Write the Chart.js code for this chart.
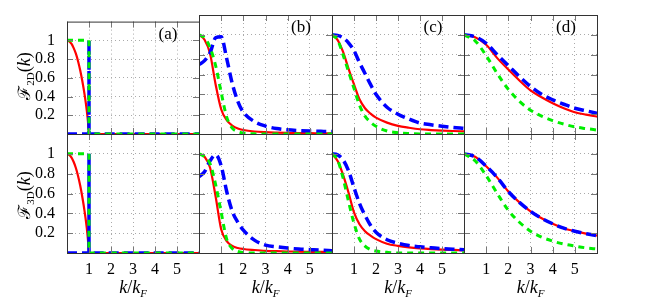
<!DOCTYPE html>
<html><head><meta charset="utf-8">
<script src="https://cdn.jsdelivr.net/npm/chart.js@4/dist/chart.umd.min.js"></script>
<style>
html,body{margin:0;padding:0;background:#fff;}
#wrap{position:relative;width:664px;height:299px;overflow:hidden;background:#fff;}
#wrap canvas{position:absolute;left:0;top:0;}
.lbl{position:absolute;font-family:"Liberation Serif","DejaVu Serif",serif;color:#000;white-space:nowrap;line-height:1;}
.ylab{transform:translate(-50%,-50%) rotate(-90deg);font-size:18px;}
.xlab{transform:translate(-50%,-50%);font-size:18px;}
.cal{font-family:"DejaVu Serif",serif;font-style:normal;font-size:17px;}
.lbl sub{font-size:11px;vertical-align:-4px;}
</style></head>
<body>
<div id="wrap"></div>
<script>
// ---------- data ----------
const xTickLabels = [1, 2, 3, 4, 5];
const yTickLabels = [0.2, 0.4, 0.6, 0.8, 1];
const panelLetters = ['(a)', '(b)', '(c)', '(d)'];

// panel (a): step / spike curves
const kRedA   = [0, 0.1, 0.2, 0.3, 0.4, 0.5, 0.6, 0.7, 0.8, 0.9, 0.95, 1, 6];
const redA    = [1, 0.99, 0.965, 0.92, 0.86, 0.78, 0.68, 0.56, 0.42, 0.25, 0.14, 0, 0];
const kStepA  = [0, 1, 1, 6];
const greenA  = [1, 1, 0, 0];
const kSpikeA = [0, 1, 1, 1, 6];
const blueA   = [0, 0, 1, 0, 0];

// panels (b),(c)
const kFine = [0, 0.25, 0.5, 0.75, 1, 1.25, 1.5, 1.75, 2, 2.5, 3, 3.5, 4, 4.5, 5, 5.5, 6];
const red2b   = [1, 0.95, 0.81, 0.50, 0.25, 0.14, 0.085, 0.055, 0.04, 0.025, 0.018, 0.014, 0.011, 0.009, 0.008, 0.007, 0.006];
const green2b = [1, 0.97, 0.87, 0.69, 0.42, 0.17, 0.06, 0.025, 0.01, 0.002, 0, 0, 0, 0, 0, 0, 0];
const blue2b  = [0.70, 0.74, 0.82, 0.97, 0.98, 0.76, 0.51, 0.33, 0.22, 0.125, 0.08, 0.055, 0.042, 0.035, 0.03, 0.027, 0.024];
const red3b   = [1, 0.97, 0.86, 0.57, 0.24, 0.12, 0.072, 0.05, 0.04, 0.03, 0.022, 0.018, 0.015, 0.013, 0.012, 0.011, 0.01];
const green3b = [1, 0.97, 0.90, 0.69, 0.41, 0.14, 0.045, 0.015, 0.005, 0, 0, 0, 0, 0, 0, 0, 0];
const blue3b  = [0.77, 0.82, 0.93, 0.99, 0.88, 0.62, 0.42, 0.31, 0.23, 0.13, 0.08, 0.063, 0.05, 0.04, 0.034, 0.028, 0.023];
const red2c   = [1, 0.95, 0.83, 0.66, 0.50, 0.35, 0.26, 0.205, 0.165, 0.115, 0.082, 0.063, 0.048, 0.04, 0.034, 0.03, 0.027];
const green2c = [1, 0.95, 0.80, 0.63, 0.46, 0.29, 0.18, 0.12, 0.078, 0.03, 0.012, 0.004, 0, 0, 0, 0, 0];
const blue2c  = [1, 0.995, 0.97, 0.92, 0.84, 0.72, 0.61, 0.50, 0.40, 0.27, 0.20, 0.15, 0.11, 0.093, 0.078, 0.066, 0.057];
const red3c   = [1, 0.93, 0.79, 0.61, 0.41, 0.29, 0.22, 0.175, 0.14, 0.094, 0.072, 0.057, 0.047, 0.04, 0.035, 0.031, 0.027];
const green3c = [1, 0.94, 0.76, 0.52, 0.30, 0.14, 0.07, 0.035, 0.02, 0.007, 0, 0, 0, 0, 0, 0, 0];
const blue3c  = [1, 0.99, 0.94, 0.83, 0.66, 0.50, 0.38, 0.28, 0.21, 0.134, 0.098, 0.075, 0.062, 0.052, 0.045, 0.039, 0.034];

// panel (d)
const kCoarse = [0, 0.5, 1, 1.5, 2, 2.5, 3, 3.5, 4, 4.5, 5, 5.5, 6];
const red2d   = [1, 0.975, 0.90, 0.765, 0.65, 0.54, 0.44, 0.37, 0.31, 0.26, 0.22, 0.195, 0.175];
const blue2d  = [1, 0.98, 0.915, 0.80, 0.69, 0.58, 0.48, 0.40, 0.345, 0.30, 0.26, 0.235, 0.21];
const green2d = [1, 0.94, 0.79, 0.61, 0.45, 0.33, 0.24, 0.18, 0.135, 0.10, 0.072, 0.055, 0.04];
const red3d   = [1, 0.97, 0.875, 0.76, 0.62, 0.51, 0.42, 0.35, 0.295, 0.25, 0.22, 0.195, 0.175];
const blue3d  = [1, 0.97, 0.875, 0.76, 0.62, 0.51, 0.42, 0.35, 0.295, 0.25, 0.22, 0.195, 0.175];
const green3d = [1, 0.93, 0.78, 0.60, 0.43, 0.31, 0.22, 0.16, 0.12, 0.09, 0.07, 0.052, 0.04];

// ---------- layout ----------
const W = 664, H = 299;
const colL = [67, 199, 332, 464], colR = [199, 332, 464, 597];
const rowT = [15, 134], rowB = [134, 253];
const YAX = 60, XAX = 40;

const RED = '#ff0000', BLUE = '#0000ff', GREEN = '#00ee00';
const pts = (ks, ys) => ks.map((k, i) => ({x: k, y: ys[i]}));

function sets(g, b, r, smooth) {
  const mode = smooth ? 'monotone' : 'default';
  return [
    {data: g, borderColor: GREEN, borderWidth: 3, borderDash: [6, 5], cubicInterpolationMode: mode, tension: 0},
    {data: b, borderColor: BLUE, borderWidth: 3.5, borderDash: [10, 5], cubicInterpolationMode: mode, tension: 0},
    {data: r, borderColor: RED, borderWidth: 2.2, cubicInterpolationMode: 'monotone', tension: 0}
  ];
}

const panels = [
  [sets(pts(kStepA, greenA), pts(kSpikeA, blueA), pts(kRedA, redA), false),
   sets(pts(kFine, green2b), pts(kFine, blue2b), pts(kFine, red2b), true),
   sets(pts(kFine, green2c), pts(kFine, blue2c), pts(kFine, red2c), true),
   sets(pts(kCoarse, green2d), pts(kCoarse, blue2d), pts(kCoarse, red2d), true)],
  [sets(pts(kStepA, greenA), pts(kSpikeA, blueA), pts(kRedA, redA), false),
   sets(pts(kFine, green3b), pts(kFine, blue3b), pts(kFine, red3b), true),
   sets(pts(kFine, green3c), pts(kFine, blue3c), pts(kFine, red3c), true),
   sets(pts(kCoarse, green3d), pts(kCoarse, blue3d), pts(kCoarse, red3d), true)]
];

const framePlugin = {
  id: 'frame',
  afterDraw(chart, args, o) {
    const {ctx, chartArea: a, scales: {x, y}} = chart;
    ctx.save();
    ctx.strokeStyle = '#777'; ctx.lineWidth = 1;
    ctx.beginPath();
    yTickLabels.forEach(v => {
      const py = Math.round(y.getPixelForValue(v)) + 0.5;
      ctx.moveTo(a.left, py); ctx.lineTo(a.left + 6, py);
      ctx.moveTo(a.right - 6, py); ctx.lineTo(a.right, py);
    });
    xTickLabels.forEach(v => {
      const px = Math.round(x.getPixelForValue(v)) + 0.5;
      ctx.moveTo(px, a.top); ctx.lineTo(px, a.top + 6);
      ctx.moveTo(px, a.bottom - 6); ctx.lineTo(px, a.bottom);
    });
    ctx.stroke();
    ctx.strokeStyle = '#333'; ctx.lineWidth = 1;
    ctx.beginPath();
    ctx.moveTo(a.left + 0.5, a.top); ctx.lineTo(a.left + 0.5, a.bottom + 1);
    ctx.moveTo(a.left, a.top + 0.5); ctx.lineTo(a.right + 1, a.top + 0.5);
    if (o.lastCol) { ctx.moveTo(a.right + 0.5, a.top); ctx.lineTo(a.right + 0.5, a.bottom + 1); }
    if (o.lastRow) { ctx.moveTo(a.left, a.bottom + 0.5); ctx.lineTo(a.right + 1, a.bottom + 0.5); }
    ctx.stroke();
    if (o.letter) {
      ctx.fillStyle = '#000';
      ctx.font = '17px "Liberation Serif", serif';
      ctx.textAlign = 'center'; ctx.textBaseline = 'middle';
      ctx.fillText(o.letter, a.right - 31, a.top + 13);
    }
    ctx.restore();
  }
};

const wrap = document.getElementById('wrap');
const tickFont = {family: '"Liberation Serif", "DejaVu Serif", serif', size: 16};

for (let r = 0; r < 2; r++) {
  for (let c = 0; c < 4; c++) {
    const cv = document.createElement('canvas');
    cv.width = W; cv.height = H;
    cv.style.width = W + 'px'; cv.style.height = H + 'px';
    wrap.appendChild(cv);
    new Chart(cv.getContext('2d'), {
      type: 'line',
      data: {datasets: panels[r][c]},
      options: {
        responsive: false, animation: false, events: [],
        layout: {padding: {left: colL[c] - YAX, top: rowT[r], right: W - colR[c], bottom: H - rowB[r] - XAX}},
        elements: {point: {radius: 0}},
        plugins: {legend: {display: false}, tooltip: {enabled: false},
          frame: {letter: r === 0 ? panelLetters[c] : '', lastCol: c === 3, lastRow: r === 1}},
        scales: {
          x: {
            type: 'linear', min: 0, max: 6,
            afterFit: s => { s.height = XAX; },
            ticks: {display: r === 1, stepSize: 1, autoSkip: false, maxRotation: 0, padding: 7,
              color: '#000', font: tickFont,
              callback: v => xTickLabels.includes(Math.round(v * 1000) / 1000) ? String(Math.round(v)) : ''},
            grid: {drawTicks: false, lineWidth: 1,
              color: ctx => (ctx.tick && ctx.tick.value > 0.01 && ctx.tick.value < 5.99) ? '#aaa' : 'rgba(0,0,0,0)'},
            border: {display: false, dash: [1, 3]}
          },
          y: {
            type: 'linear', min: 0, max: 1.2,
            afterFit: s => { s.width = YAX; },
            ticks: {display: c === 0, stepSize: 0.2, autoSkip: false, padding: 12,
              color: '#000', font: tickFont,
              callback: v => {
                const q = Math.round(v * 1000) / 1000;
                return yTickLabels.includes(q) ? (q === 1 ? '1' : q.toFixed(1)) : '';
              }},
            grid: {drawTicks: false, lineWidth: 1,
              color: ctx => (ctx.tick && ctx.tick.value > 0.01 && ctx.tick.value < 1.19) ? '#aaa' : 'rgba(0,0,0,0)'},
            border: {display: false, dash: [1, 3]}
          }
        }
      },
      plugins: [framePlugin]
    });
  }
}

// axis titles (real text)
function addLabel(html, cls, left, top) {
  const d = document.createElement('div');
  d.className = 'lbl ' + cls;
  d.style.left = left + 'px'; d.style.top = top + 'px';
  d.innerHTML = html;
  wrap.appendChild(d);
}
addLabel('<span class="cal">ℱ</span><sub>2D</sub>(<i>k</i>)', 'ylab', 25, 76);
addLabel('<span class="cal">ℱ</span><sub>3D</sub>(<i>k</i>)', 'ylab', 25, 195);
for (let c = 0; c < 4; c++) {
  addLabel('<i>k</i>/<i>k</i><sub><i>F</i></sub>', 'xlab', (colL[c] + colR[c]) / 2, 288);
}
</script>
</body></html>
